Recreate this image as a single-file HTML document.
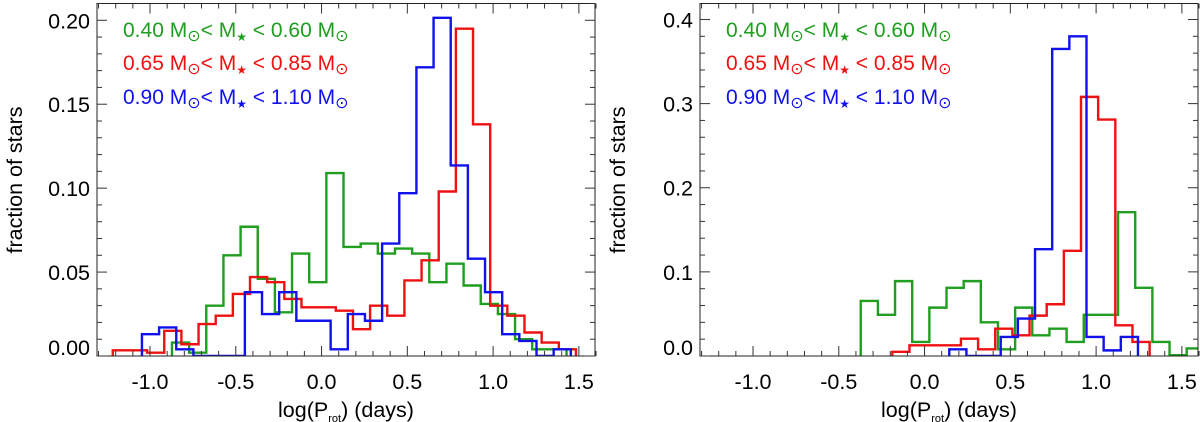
<!DOCTYPE html>
<html><head><meta charset="utf-8"><style>
html,body{margin:0;padding:0;background:#fff;}
svg{display:block;font-family:"Liberation Sans",Arial,sans-serif;}
</style></head><body>
<svg id="chart" width="1200" height="422" viewBox="0 0 1200 422" xmlns="http://www.w3.org/2000/svg"></svg>
<script>
// ---- data ----
const binWidth = 0.1;
const xTicks = [-1.0, -0.5, 0.0, 0.5, 1.0, 1.5];
const leftYTicks = [0.00, 0.05, 0.10, 0.15, 0.20];
const leftYTickLabels = ["0.00", "0.05", "0.10", "0.15", "0.20"];
const rightYTicks = [0.0, 0.1, 0.2, 0.3, 0.4];
const rightYTickLabels = ["0.0", "0.1", "0.2", "0.3", "0.4"];
const legendLabels = ["0.40", "0.60", "0.65", "0.85", "0.90", "1.10"];

const leftGreenStart = -0.872;
const leftGreen = [0.008,0.002,0.030,0.060,0.077,0.046,0.026,0.061,0.044,0.109,0.065,0.067,0.061,0.064,0.061,0.044,0.055,0.042,0.031,0.025,0.010,0.004,0.004];
const leftRedStart = -1.217;
const leftRed = [0.0034,0.0034,0.002,0.015,0.007,0.019,0.024,0.037,0.047,0.044,0.034,0.029,0.029,0.027,0.016,0.030,0.024,0.045,0.057,0.098,0.195,0.138,0.030,0.024,0.014,0.008,0.004];
const leftBlueStart = -1.047;
const leftBlue = [0.013,0.017,0.004,0,0,0,0.038,0.025,0.038,0.021,0.021,0.004,0.025,0.021,0.067,0.097,0.172,0.2015,0.1135,0.058,0.038,0.013,0.009,0,0.004];

const rightGreenStart = -0.372;
const rightGreen = [0.0655,0.049,0.089,0.0167,0.0575,0.081,0.089,0.040,0.008,0.0575,0.0246,0.0325,0.0167,0.049,0.049,0.171,0.081,0.0167,0.001,0.009];
const rightRedStart = -0.188;
const rightRed = [0.005,0.0127,0.0127,0.0127,0.0206,0.008,0.0325,0.0246,0.048,0.0615,0.125,0.308,0.281,0.0365,0.0167];
const rightBlueStart = 0.144;
const rightBlue = [0.008,0,0,0.0226,0.0445,0.127,0.365,0.38,0.0226,0.0067,0.0226];

// ---- drawing ----
const NS = "http://www.w3.org/2000/svg";
const svg = document.getElementById("chart");
const COLORS = {green:"#1f9e1f", red:"#ee1111", blue:"#1111ee"};
function mk(tag, attrs, parent){
  const e = document.createElementNS(NS, tag);
  for (const k in attrs) e.setAttribute(k, attrs[k]);
  (parent||svg).appendChild(e);
  return e;
}

function panel(p){
  const g = mk("g", {});
  
  
  const xMin=-1.309, xMax=1.594;
  const X = v => p.x0 + (v - xMin) / (xMax - xMin) * (p.x1 - p.x0);
  const Y = v => p.y1 - v / p.yMax * (p.y1 - p.y0);
  const clip = mk("clipPath", {id: p.name + "-clip"}, g);
  mk("rect", {x:p.x0, y:p.y0, width:p.x1-p.x0, height:p.y1-p.y0}, clip);

  p.series.forEach(s => {
    let d = "M" + X(s.start) + "," + Y(0);
    s.values.forEach((v,i) => {
      const a = X(s.start + i*binWidth), b = X(s.start + (i+1)*binWidth);
      d += " L" + a + "," + Y(v) + " L" + b + "," + Y(v);
    });
    d += " L" + X(s.start + s.values.length*binWidth) + "," + Y(0);
    const path = mk("path", {d:d, fill:"none", stroke:s.color, "stroke-width":2.4, "stroke-linejoin":"miter", "clip-path":"url(#"+p.name+"-clip)"}, g);
    
    
  });

  const frame = mk("rect", {x:p.x0, y:p.y0, width:p.x1-p.x0, height:p.y1-p.y0, fill:"none", stroke:"#222", "stroke-width":1}, g);
  
  

  for (let v = -1.3; v <= 1.6001; v += 0.1) {
    const vv = Math.round(v*10)/10;
    const major = Math.abs(vv*2 - Math.round(vv*2)) < 1e-6;
    const L = major ? 10 : 5;
    const x = X(vv);
    mk("line", {x1:x, x2:x, y1:p.y1, y2:p.y1-L, stroke:"#333", "stroke-width":1}, g);
    mk("line", {x1:x, x2:x, y1:p.y0, y2:p.y0+L, stroke:"#333", "stroke-width":1}, g);
  }
  xTicks.forEach(v => {
    const t = mk("text", {x:X(v), y:389, "text-anchor":"middle", "font-size":21.5, fill:"#000"}, g);
    t.textContent = v.toFixed(1);
    
    
  });
  for (let v = 0; v <= p.yMax + 1e-9; v += p.yMinor) {
    const major = Math.abs(v/p.yMajor - Math.round(v/p.yMajor)) < 1e-6;
    const L = major ? 10 : 5;
    const y = Y(v);
    mk("line", {x1:p.x0, x2:p.x0+L, y1:y, y2:y, stroke:"#333", "stroke-width":1}, g);
    mk("line", {x1:p.x1, x2:p.x1-L, y1:y, y2:y, stroke:"#333", "stroke-width":1}, g);
  }
  p.yTicks.forEach((v,i) => {
    const y = i === 0 ? Y(v) - 1 : Y(v) + 8;
    const t = mk("text", {x:p.x0 - 7, y:y, "text-anchor":"end", "font-size":21.5, fill:"#000"}, g);
    t.textContent = p.yLabels[i];
    
    
  });
  const yt = mk("text", {x:0, y:0, "text-anchor":"middle", "font-size":21.5, fill:"#000", transform:"translate("+(p.x0-75)+",180) rotate(-90)"}, g);
  yt.textContent = "fraction of stars";
  
  
  const xt = mk("text", {x:(p.x0+p.x1)/2, y:417, "text-anchor":"middle", "font-size":21.5, fill:"#000"}, g);
  xt.innerHTML = 'log(P<tspan font-size="11" dy="5">rot</tspan><tspan dy="-5">) (days)</tspan>';
  
  

  const legs = [[legendLabels[0],legendLabels[1],COLORS.green,37],[legendLabels[2],legendLabels[3],COLORS.red,70],[legendLabels[4],legendLabels[5],COLORS.blue,104]];
  legs.forEach(l => {
    const t = mk("text", {x:p.x0+26, y:l[3], "font-size":21, fill:l[2]}, g);
    t.innerHTML = l[0] + ' M<tspan font-size="16" dy="4">\u2299</tspan><tspan dy="-4">&lt; M</tspan><tspan font-size="12" dy="4">\u2605</tspan><tspan dy="-4"> &lt; ' + l[1] + ' M</tspan><tspan font-size="16" dy="4">\u2299</tspan>';
    
    
  });
}

panel({name:"left-panel", x0:97, x1:595, y0:3.5, y1:356, yMax:0.21, yMajor:0.05, yMinor:0.01,
  yTicks:leftYTicks, yLabels:leftYTickLabels,
  series:[{name:"green-histogram",color:COLORS.green,start:leftGreenStart,values:leftGreen},
          {name:"red-histogram",color:COLORS.red,start:leftRedStart,values:leftRed},
          {name:"blue-histogram",color:COLORS.blue,start:leftBlueStart,values:leftBlue}]});
panel({name:"right-panel", x0:700, x1:1198, y0:3.5, y1:356, yMax:0.419, yMajor:0.1, yMinor:0.02,
  yTicks:rightYTicks, yLabels:rightYTickLabels,
  series:[{name:"green-histogram",color:COLORS.green,start:rightGreenStart,values:rightGreen},
          {name:"red-histogram",color:COLORS.red,start:rightRedStart,values:rightRed},
          {name:"blue-histogram",color:COLORS.blue,start:rightBlueStart,values:rightBlue}]});
</script>
</body></html>
